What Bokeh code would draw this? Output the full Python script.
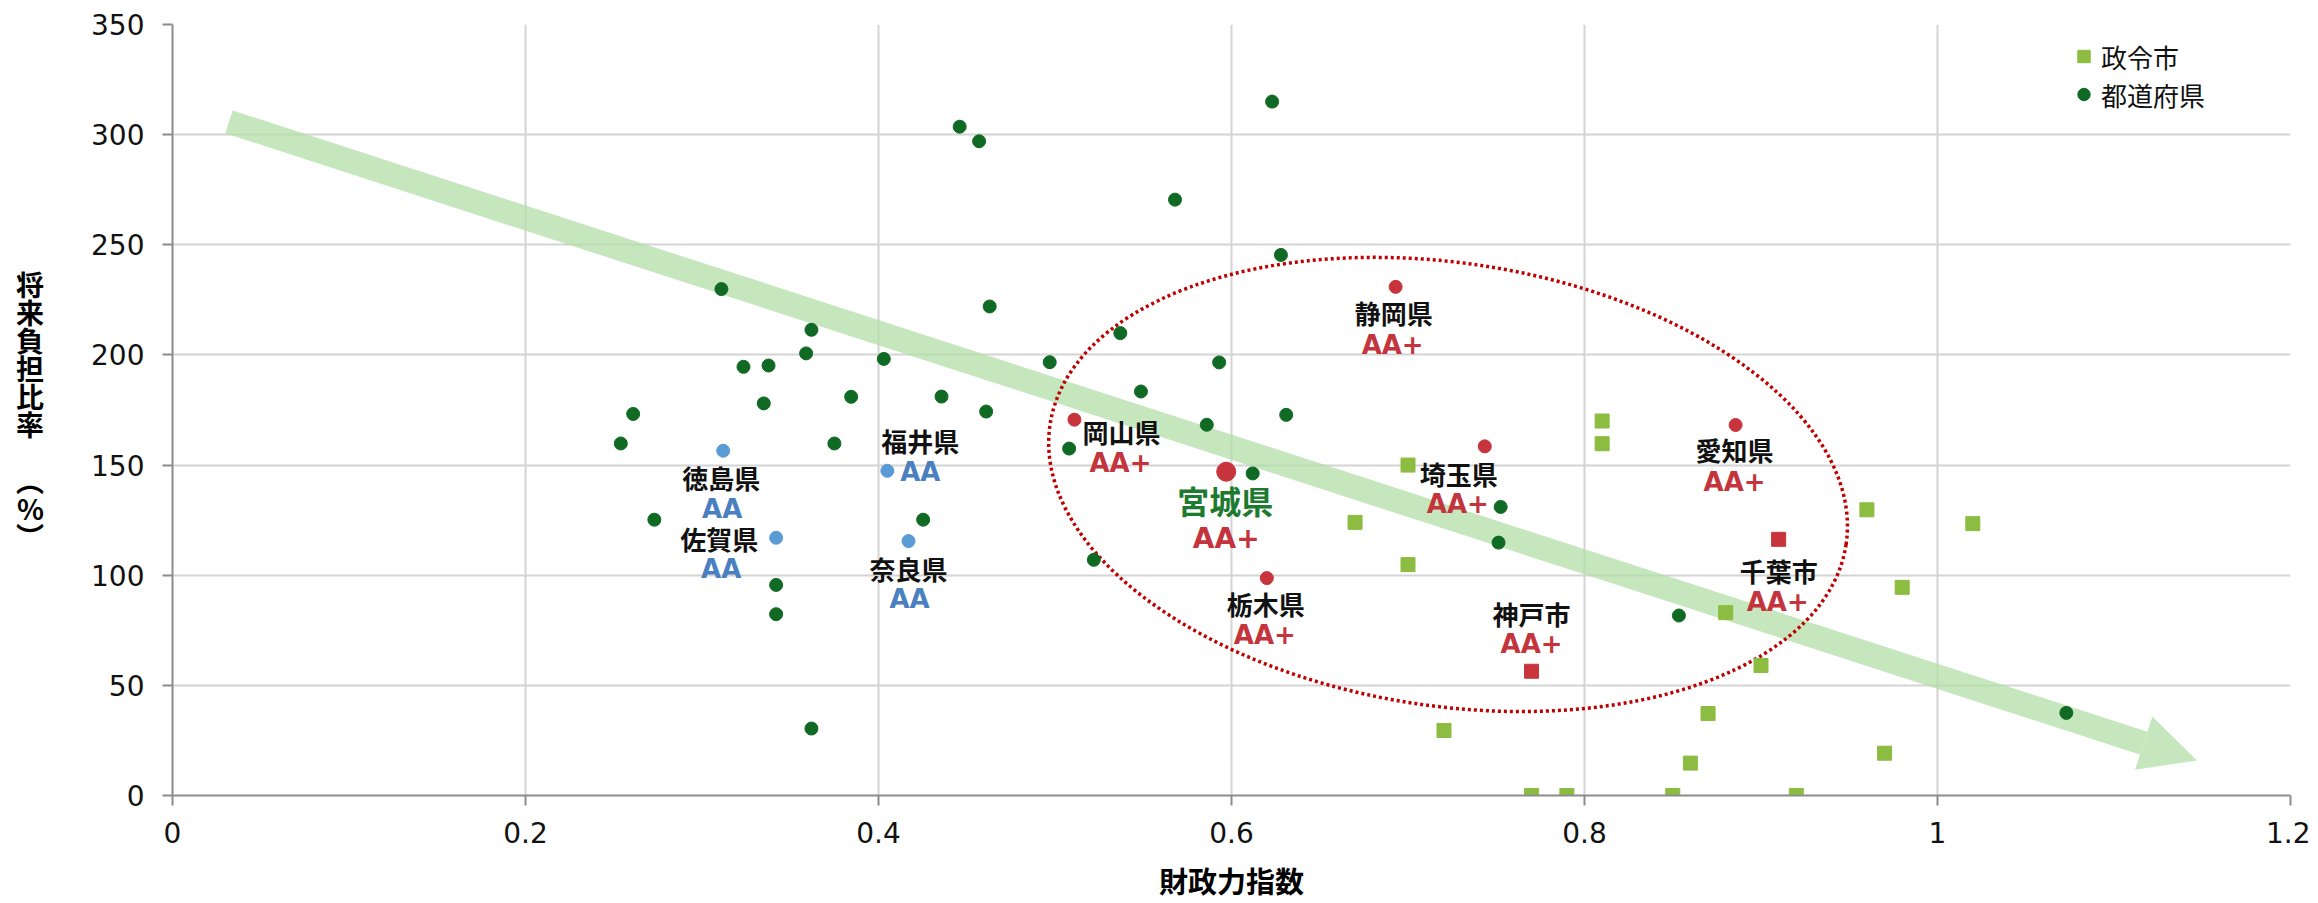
from bokeh.plotting import figure
from bokeh.models import (Arrow, NormalHead, Legend, LegendItem, FixedTicker,
                          Range1d, ColumnDataSource)
from bokeh.core.properties import value
from bokeh.embed import file_html
from bokeh.resources import INLINE

# ---------------- data ----------------
# 都道府県 (prefectures, plain points)
pref_x = [0.254, 0.261, 0.273, 0.311, 0.3235, 0.3377, 0.335, 0.342, 0.342, 0.359,
          0.362, 0.362, 0.375, 0.3845, 0.403, 0.4253, 0.4357, 0.446, 0.457, 0.461,
          0.463, 0.497, 0.508, 0.522, 0.537, 0.5487, 0.568, 0.586, 0.593, 0.612,
          0.623, 0.628, 0.631, 0.7513, 0.7525, 0.8535, 1.073]
pref_y = [159.8, 173.2, 125.2, 229.9, 194.6, 195.2, 178.0, 95.6, 82.3, 200.7,
          211.4, 30.4, 159.8, 181.0, 198.2, 125.2, 181.1, 303.6, 297.0, 174.3,
          222.0, 196.7, 157.5, 107.0, 209.9, 183.4, 270.5, 168.3, 196.6, 146.2,
          315.0, 245.4, 172.8, 114.8, 131.0, 81.7, 37.5]

# 政令市 (designated cities, plain points)
city_x = [0.670, 0.700, 0.700, 0.7204, 0.770, 0.790, 0.810, 0.810, 0.850, 0.860,
          0.870, 0.880, 0.900, 0.920, 0.960, 0.970, 0.980, 1.020]
city_y = [124.0, 150.0, 104.8, 29.5, 0.0, 0.0, 170.0, 159.7, 0.0, 14.7,
          37.2, 83.0, 59.0, 0.0, 129.7, 19.2, 94.5, 123.4]

# rated AA prefectures
aa_names = ["徳島県", "佐賀県", "福井県", "奈良県"]
aa_x = [0.312, 0.342, 0.405, 0.417]
aa_y = [156.5, 117.0, 147.4, 115.5]
aa_rating = ["AA", "AA", "AA", "AA"]

# rated AA+ prefectures
aap_pref_names = ["岡山県", "静岡県", "埼玉県", "栃木県", "愛知県"]
aap_pref_x = [0.511, 0.693, 0.7435, 0.620, 0.8856]
aap_pref_y = [170.6, 230.9, 158.5, 98.7, 168.2]
aap_pref_rating = ["AA+", "AA+", "AA+", "AA+", "AA+"]

# rated AA+ designated cities
aap_city_names = ["神戸市", "千葉市"]
aap_city_x = [0.770, 0.910]
aap_city_y = [56.4, 116.3]
aap_city_rating = ["AA+", "AA+"]

# highlighted prefecture
main_name = ["宮城県"]
main_x = [0.597]
main_y = [147.0]
main_rating = ["AA+"]

x_ticks = [0, 0.2, 0.4, 0.6, 0.8, 1.0, 1.2]
x_tick_labels = ["0", "0.2", "0.4", "0.6", "0.8", "1", "1.2"]
y_ticks = [0, 50, 100, 150, 200, 250, 300, 350]

x_title = "財政力指数"
y_title = "将\n来\n負\n担\n比\n率\n\n︵\n%\n︶"
legend_labels = ["政令市", "都道府県"]

# trend arrow (start / tip) and highlight ellipse centre
trend_x = [0.032, 1.147]
trend_y = [305.8, 15.9]
ellipse_center = [0.7227, 141.2]

# ---------------- layout (pixel offsets of the labels) ----------------
label_offsets = {  # name: (name_dx, name_dy, rating_dx, rating_dy)
    "徳島県": (-2, 27, -1, 58),
    "佐賀県": (-57, 1, -55, 31),
    "福井県": (33, -30, 33, 1),
    "奈良県": (0, 27, 1, 58),
    "岡山県": (47, 12, 46, 43),
    "静岡県": (-2, 26, -3, 58),
    "埼玉県": (-26, 27, -27, 58),
    "栃木県": (-1, 25, -2, 57),
    "愛知県": (-1, 25, -1, 57),
    "神戸市": (0, -58, 0, -27),
    "千葉市": (0, 31, -1, 63),
    "宮城県": (-1, 28, 0, 67),
}

DARK_GREEN = "#106a24"
LIGHT_GREEN = "#8cbc40"
RED = "#c8343c"
BLUE = "#5b9bd5"
CJK = "Noto Sans CJK JP"
LATIN = "DejaVu Sans"

p = figure(width=2310, height=903, x_range=Range1d(0, 1.2), y_range=Range1d(0, 350),
           output_backend="svg", toolbar_location=None,
           min_border_left=172, min_border_right=20, min_border_top=24,
           min_border_bottom=108)
p.outline_line_color = None
p.background_fill_color = "white"
p.border_fill_color = "white"

# grid
p.grid.grid_line_color = "#d4d4d4"
p.grid.grid_line_width = 2
p.xaxis.ticker = FixedTicker(ticks=x_ticks)
p.yaxis.ticker = FixedTicker(ticks=y_ticks)
p.xaxis.major_label_overrides = {t: l for t, l in zip(x_ticks, x_tick_labels)}

for ax in (p.xaxis, p.yaxis):
    ax.axis_line_color = "#8c8c8c"
    ax.axis_line_width = 2
    ax.major_tick_line_color = "#8c8c8c"
    ax.major_tick_line_width = 2
    ax.major_tick_out = 10
    ax.major_tick_in = 0
    ax.minor_tick_line_color = None
    ax.major_label_text_font = LATIN
    ax.major_label_text_font_size = "28px"
    ax.major_label_text_color = "#111111"
    ax.axis_label_text_font = CJK
    ax.axis_label_text_font_style = "bold"
    ax.axis_label_text_color = "#000000"

p.xaxis.major_label_standoff = 16
p.yaxis.major_label_standoff = 18
p.xaxis.axis_label = x_title
p.xaxis.axis_label_text_font_size = "29px"
p.xaxis.axis_label_standoff = 13
p.yaxis.axis_label = y_title
p.yaxis.axis_label_orientation = "horizontal"
p.yaxis.axis_label_text_font_size = "28px"
p.yaxis.axis_label_text_line_height = 0.7
p.yaxis.axis_label_standoff = 44

# trend arrow
arrow = Arrow(x_start=trend_x[0], y_start=trend_y[0], x_end=trend_x[1], y_end=trend_y[1],
              line_width=24, line_color="#b3dfa8", line_alpha=0.75, line_cap="butt",
              end=NormalHead(size=56, fill_color="#b3dfa8", fill_alpha=0.75,
                             line_alpha=0),
              level="underlay")
p.add_layout(arrow)

# highlight ellipse
p.ellipse(x=[ellipse_center[0]], y=[ellipse_center[1]], width=805, height=443,
          width_units="screen", height_units="screen", angle=-8.57, angle_units="deg",
          fill_color=None, line_color="#c00000", line_width=3.5, line_dash="3 3")

# points
r_pref = p.scatter(pref_x, pref_y, marker="circle", size=13, color=DARK_GREEN)
r_city = p.scatter(city_x, city_y, marker="square", size=14, color=LIGHT_GREEN)
p.scatter(aa_x, aa_y, marker="circle", size=13, color=BLUE)
p.scatter(aap_pref_x, aap_pref_y, marker="circle", size=13, color=RED)
p.scatter(aap_city_x, aap_city_y, marker="square", size=14, color=RED)
p.scatter(main_x, main_y, marker="circle", size=19, color=RED)


def add_labels(names, xs, ys, ratings, name_color, rating_color, name_size, rating_size):
    src = ColumnDataSource(dict(
        x=xs, y=ys, name=names, rating=ratings,
        ndx=[label_offsets[n][0] for n in names], ndy=[label_offsets[n][1] for n in names],
        rdx=[label_offsets[n][2] for n in names], rdy=[label_offsets[n][3] for n in names]))
    p.text(x="x", y="y", text="name", x_offset="ndx", y_offset="ndy", source=src,
           text_font=value(CJK), text_font_style="bold", text_font_size=name_size,
           text_color=name_color, text_align="center", text_baseline="middle")
    p.text(x="x", y="y", text="rating", x_offset="rdx", y_offset="rdy", source=src,
           text_font=value(LATIN), text_font_style="bold", text_font_size=rating_size,
           text_color=rating_color, text_align="center", text_baseline="middle")


add_labels(aa_names, aa_x, aa_y, aa_rating, "#111111", "#4a7fc0", "26px", "26px")
add_labels(aap_pref_names, aap_pref_x, aap_pref_y, aap_pref_rating, "#111111", "#c4343c", "26px", "26px")
add_labels(aap_city_names, aap_city_x, aap_city_y, aap_city_rating, "#111111", "#c4343c", "26px", "26px")
add_labels(main_name, main_x, main_y, main_rating, "#1d7a30", "#c4343c", "32px", "28px")

legend = Legend(items=[LegendItem(label=legend_labels[0], renderers=[r_city]),
                       LegendItem(label=legend_labels[1], renderers=[r_pref])],
                location=(1896, 682), margin=0, padding=0, spacing=0,
                glyph_width=31, glyph_height=38, label_height=38, label_standoff=2,
                label_text_font=CJK, label_text_font_size="26px",
                label_text_color="#111111",
                border_line_alpha=0, background_fill_alpha=0)
p.add_layout(legend)

open("out.html", "w").write(file_html(p, INLINE))
